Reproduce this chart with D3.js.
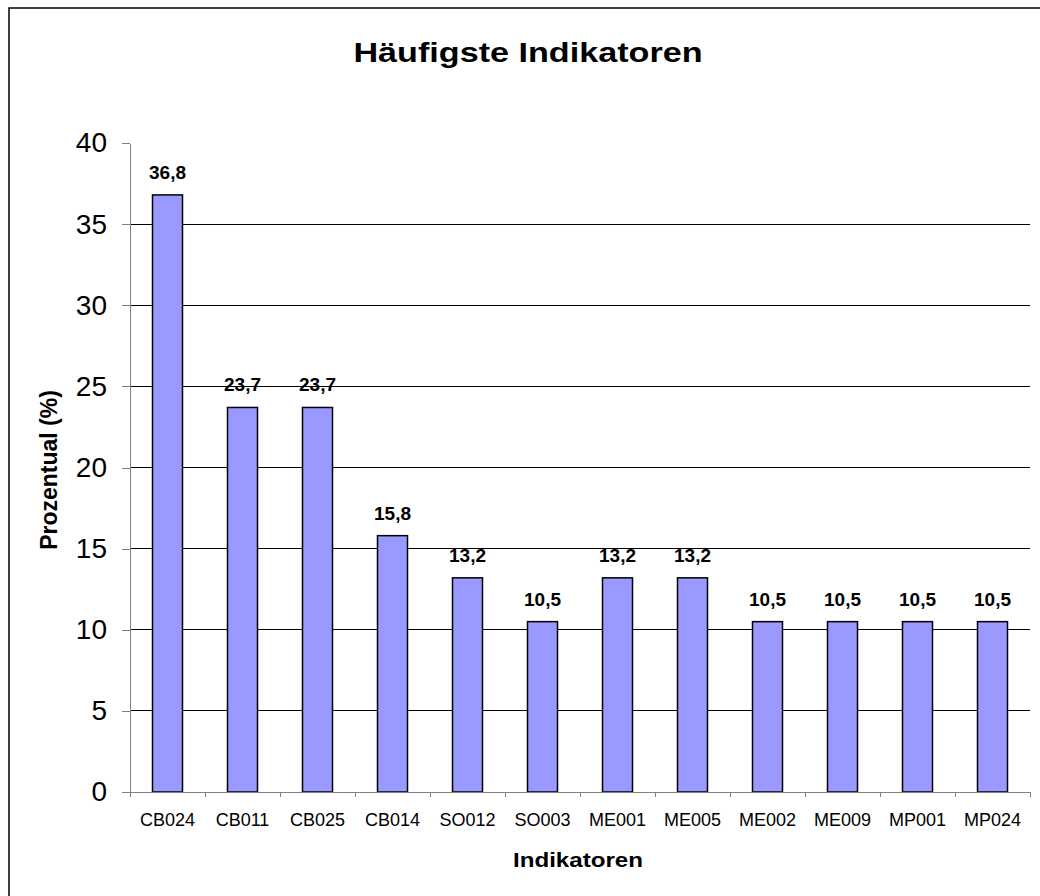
<!DOCTYPE html>
<html>
<head>
<meta charset="utf-8">
<style>
    body{ margin:0; background:#fff; }
    text{ font-family:Arial, "Liberation Sans", sans-serif; }
</style>
</head>
<body>
<div class="chart"></div>
<script src="https://d3js.org/d3.v7.min.js"></script>
<script>

var categories = ["CB024","CB011","CB025","CB014","SO012","SO003","ME001","ME005","ME002","ME009","MP001","MP024"];
var values = [36.8, 23.7, 23.7, 15.8, 13.2, 10.5, 13.2, 13.2, 10.5, 10.5, 10.5, 10.5];
var yTicks = [0, 5, 10, 15, 20, 25, 30, 35, 40];
var gridTicks = [5, 10, 15, 20, 25, 30, 35];

var title = "Häufigste Indikatoren",
    xTitle = "Indikatoren",
    yTitle = "Prozentual (%)";

var svg = d3.select(".chart").append("svg").attr("width", 1040).attr("height", 896),
    margin = {top: 143, left: 130, right: 10, bottom: 104},
    width = 1040 - margin.left - margin.right,
    height = 896 - margin.top - margin.bottom;

// outer chart frame (right/bottom run past the picture)
svg.append("rect")
    .attr("x", 9).attr("y", 8)
    .attr("width", 1200).attr("height", 1200)
    .attr("fill", "none")
    .attr("stroke", "#000")
    .attr("stroke-width", 1.5);

var g = svg.append("g").attr("transform", "translate(" + margin.left + "," + margin.top + ")");

var x = d3.scaleBand()
    .domain(categories)
    .range([0, width])
    .paddingInner(0.6)
    .paddingOuter(0.3);

var y = d3.scaleLinear()
    .domain([0, 40])
    .range([height, 0]);

// gridlines
g.selectAll(".grid")
    .data(gridTicks)
  .enter().append("line")
    .attr("stroke", "#000")
    .attr("shape-rendering", "crispEdges")
    .attr("x1", 0)
    .attr("x2", width)
    .attr("y1", function(d) { return y(d); })
    .attr("y2", function(d) { return y(d); });

// y axis
var yAxis = g.append("g")
    .call(d3.axisLeft(y).tickValues(yTicks).tickSize(8).tickPadding(15).tickSizeOuter(0));
yAxis.select(".domain").attr("stroke", "#808080").attr("shape-rendering", "crispEdges");
yAxis.selectAll(".tick line").attr("stroke", "#808080").attr("shape-rendering", "crispEdges");
yAxis.selectAll(".tick text")
    .attr("font-size", 28)
    .attr("font-family", "Arial, 'Liberation Sans', sans-serif")
    .attr("fill", "#000");

// bars
g.selectAll(".bar")
    .data(values)
  .enter().append("rect")
    .attr("x", function(d, i) { return x(categories[i]); })
    .attr("y", function(d) { return y(d); })
    .attr("width", x.bandwidth())
    .attr("height", function(d) { return height - y(d); })
    .attr("fill", "#9999ff")
    .attr("stroke", "#000")
    .attr("stroke-width", 1.5);

// value labels
g.selectAll(".label")
    .data(values)
  .enter().append("text")
    .attr("x", function(d, i) { return x(categories[i]) + x.bandwidth() / 2; })
    .attr("y", function(d) { return y(d) - 16; })
    .attr("text-anchor", "middle")
    .attr("font-size", 19)
    .attr("font-weight", "bold")
    .text(function(d) { return d.toFixed(1).replace(".", ","); });

// x axis: ticks sit between the categories
var bounds = d3.range(categories.length + 1).map(function(i) { return i * x.step(); });
var xLine = g.append("g").attr("transform", "translate(0," + height + ")");
xLine.append("line")
    .attr("x1", 0).attr("x2", width)
    .attr("stroke", "#808080")
    .attr("shape-rendering", "crispEdges");
xLine.selectAll(".xt")
    .data(bounds)
  .enter().append("line")
    .attr("x1", function(d) { return d; })
    .attr("x2", function(d) { return d; })
    .attr("y1", 0).attr("y2", 5)
    .attr("stroke", "#808080")
    .attr("shape-rendering", "crispEdges");

var xAxis = g.append("g")
    .attr("transform", "translate(0," + height + ")")
    .call(d3.axisBottom(x).tickSize(0).tickPadding(21));
xAxis.select(".domain").remove();
xAxis.selectAll(".tick text")
    .attr("font-size", 18)
    .attr("font-family", "Arial, 'Liberation Sans', sans-serif")
    .attr("fill", "#000");

// titles
svg.append("text")
    .attr("transform", "translate(528,62) scale(1.22,1)")
    .attr("text-anchor", "middle")
    .attr("font-size", 28)
    .attr("font-weight", "bold")
    .text(title);

svg.append("text")
    .attr("transform", "translate(578,867) scale(1.15,1)")
    .attr("text-anchor", "middle")
    .attr("font-size", 21)
    .attr("font-weight", "bold")
    .text(xTitle);

svg.append("text")
    .attr("transform", "translate(57,470) rotate(-90)")
    .attr("text-anchor", "middle")
    .attr("font-size", 23)
    .attr("font-weight", "bold")
    .text(yTitle);

</script>
</body>
</html>
